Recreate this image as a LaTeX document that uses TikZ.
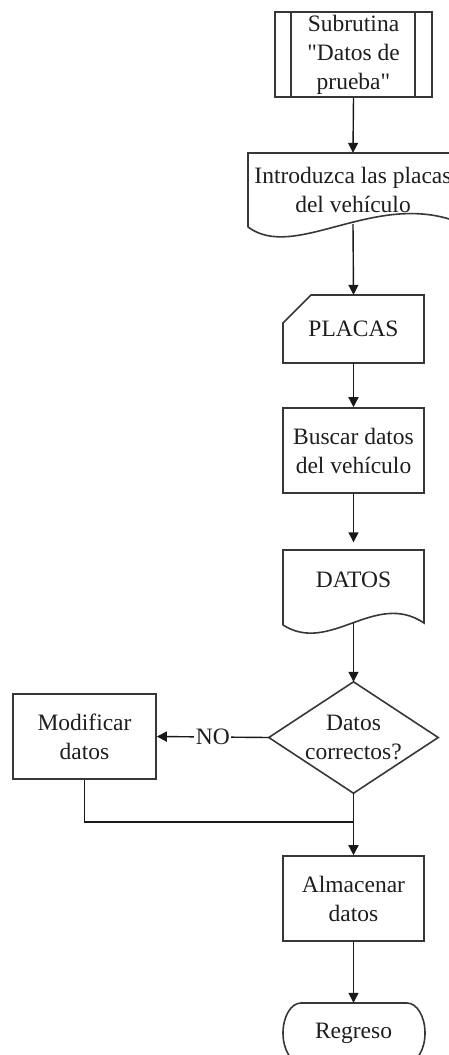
\documentclass[tikz,border=0pt]{standalone}
\usepackage{fontspec}
\setmainfont{Liberation Serif}[Ligatures=TeXOff]
\usetikzlibrary{arrows.meta}
\definecolor{ln}{RGB}{55,55,55}
\definecolor{tx}{RGB}{30,30,30}
\definecolor{cn}{RGB}{25,25,25}
\begin{document}
\begin{tikzpicture}[x=1pt,y=-1pt,
  lab/.style={text=tx,inner sep=0pt,align=center,font=\fontsize{23.5}{29}\selectfont},
  box/.style={lab,draw=ln,line width=1.6pt},
  shp/.style={draw=ln,line width=1.6pt},
  conn/.style={draw=cn,line width=1.4pt},
  arr/.style={conn,-{Triangle[length=10pt,width=10pt]}}]
\useasboundingbox (0,0) rectangle (449,1055);

% Subroutine
\node[box,minimum width=157pt,minimum height=85pt] (sub) at (353.5,54.5) {Subrutina\\"Datos de\\prueba"};
\draw[shp] ([xshift=17pt]sub.north west) -- ([xshift=17pt]sub.south west);
\draw[shp] ([xshift=-18pt]sub.north east) -- ([xshift=-18pt]sub.south east);

% Document: Introduzca las placas
\node[lab,minimum width=210pt,minimum height=74pt] (doc1) at (353,190) {Introduzca las placas\\del vehículo};
\draw[shp] (248,227) -- (248,153) -- (458,153) -- (458,222) .. controls (375,190) and (295,262) .. (248,227);
\coordinate (d1b) at (353,224);

% Manual input: PLACAS
\node[lab,minimum width=141pt,minimum height=68pt] (plc) at (353.5,329) {PLACAS};
\draw[shp] (311,295) -- (424,295) -- (424,363) -- (283,363) -- (283,323) -- cycle;

% Process: Buscar datos
\node[box,minimum width=141pt,minimum height=85pt] (bus) at (353.5,450.5) {Buscar datos\\del vehículo};

% Document: DATOS
\node[lab,minimum width=141pt,minimum height=75pt] (dat) at (353.5,580) {DATOS};
\draw[shp] (283,625) -- (283,550) -- (424,550) -- (424,623) .. controls (375,590) and (330,655) .. (283,625);
\coordinate (datb) at (353.5,623);

% Decision
\node[lab,minimum width=169pt,minimum height=111pt] (dec) at (353.5,737.5) {Datos\\correctos?};
\draw[shp] (dec.north) -- (dec.east) -- (dec.south) -- (dec.west) -- cycle;

% Modificar datos
\node[box,minimum width=143pt,minimum height=85pt] (mod) at (84.5,736.5) {Modificar\\datos};

% Almacenar datos
\node[box,minimum width=141pt,minimum height=85pt] (alm) at (353.5,898.5) {Almacenar\\datos};

% Terminal: Regreso
\node[lab,minimum width=142pt,minimum height=60pt] (reg) at (353.5,1033) {Regreso};
\draw[shp] (301,1003) -- (407,1003) arc[start angle=90,end angle=-90,x radius=18pt,y radius=30pt]
  -- (301,1063) arc[start angle=270,end angle=90,x radius=18pt,y radius=30pt] -- cycle;

% Connectors
\draw[arr] (sub.south) -- (doc1.north);
\draw[arr] (d1b) -- (plc.north);
\draw[arr] (plc.south) -- (bus.north);
\draw[arr] (bus.south) -- (dat.north);
\draw[arr] (datb) -- (dec.north);
\draw[arr] (dec.west) -- node[lab,fill=white,inner xsep=1.5pt] {NO} (mod.east);
\coordinate (j) at (353.5,822);
\draw[conn] (mod.south) |- (j);
\draw[arr] (dec.south) -- (alm.north);
\draw[arr] (alm.south) -- (reg.north);
\end{tikzpicture}
\end{document}
